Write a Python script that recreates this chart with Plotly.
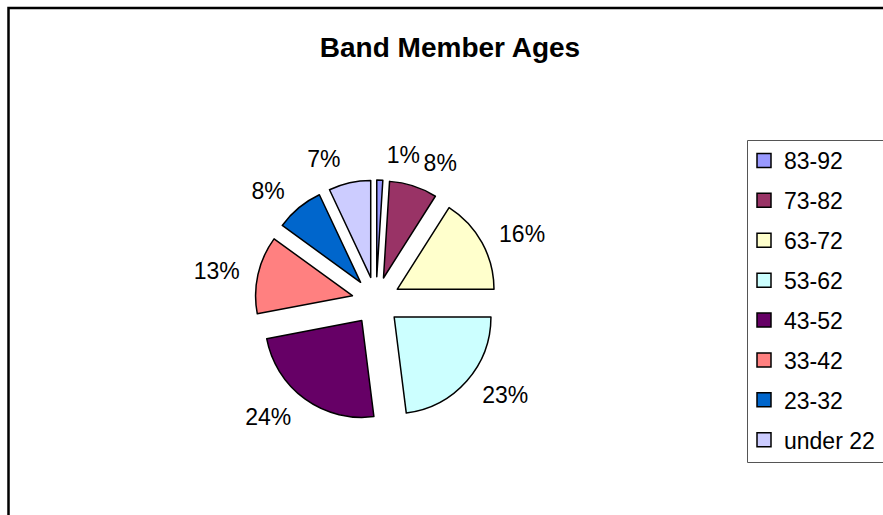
import plotly.graph_objects as go

labels = ["83-92", "73-82", "63-72", "53-62", "43-52", "33-42", "23-32", "under 22"]
values = [1, 8, 16, 23, 24, 13, 8, 7]
colors = ["#9999FF", "#993366", "#FFFFCC", "#CCFFFF", "#660066", "#FF8080", "#0066CC", "#CCCCFF"]
title_text = "Band Member Ages"

# which label layer each percentage label is drawn in (two layers keep
# neighbouring labels from being pushed apart by the library)
label_layer = [0, 1, 0, 0, 1, 0, 1, 1]

W, H = 883, 515
FONT = "Liberation Sans, Arial, sans-serif"
CX, CY = 376, 301          # pie centre (px from top-left)
PIE_EXT = 121              # outer extent of exploded slices (px)
LABEL_R = 133              # radius of the label ring (px)
PULL = 0.25


def domain(ext):
    return dict(x=[(CX - ext) / W, (CX + ext) / W],
                y=[(H - CY - ext) / H, (H - CY + ext) / H])


fig = go.Figure()

# visible exploded pie
fig.add_trace(go.Pie(
    labels=labels,
    values=values,
    sort=False,
    direction="clockwise",
    rotation=0,
    pull=[PULL] * len(values),
    marker=dict(colors=colors, line=dict(color="black", width=1.5)),
    textinfo="none",
    showlegend=False,
    hoverinfo="label+percent",
    domain=domain(PIE_EXT),
))

# transparent pies that only carry the outside percentage labels
for layer in (0, 1):
    fig.add_trace(go.Pie(
        labels=labels,
        values=values,
        sort=False,
        direction="clockwise",
        rotation=0,
        marker=dict(colors=["rgba(0,0,0,0)"] * len(values), line=dict(width=0)),
        textposition=["outside" if l == layer else "none" for l in label_layer],
        texttemplate=["%{percent:.0%}" if l == layer else "" for l in label_layer],
        textfont=dict(family=FONT, size=23, color="black"),
        showlegend=False,
        hoverinfo="skip",
        domain=domain(LABEL_R),
    ))

# legend entries
for lab, col in zip(labels, colors):
    fig.add_trace(go.Scatter(
        x=[None], y=[None], mode="markers", name=lab, legendgroup=lab,
        marker=dict(symbol="square", size=14, color=col, line=dict(color="black", width=1.5)),
        showlegend=True, hoverinfo="skip",
    ))

fig.update_layout(
    width=W, height=H,
    margin=dict(l=0, r=0, t=0, b=0, autoexpand=False),
    paper_bgcolor="white",
    plot_bgcolor="white",
    xaxis=dict(visible=False),
    yaxis=dict(visible=False),
    title=dict(text="<b>" + title_text + "</b>", x=450 / W, xanchor="center",
               y=1 - 47 / H, yanchor="middle", yref="container",
               font=dict(family=FONT, size=28, color="black")),
    legend=dict(
        x=744 / W, xanchor="left", y=1 - 139 / H, yanchor="top",
        borderwidth=0, bgcolor="rgba(0,0,0,0)",
        font=dict(family=FONT, size=23, color="black"),
        traceorder="grouped", tracegroupgap=7,
        itemsizing="trace",
    ),
    shapes=[
        # chart-area border (runs off the right and bottom edges)
        dict(type="rect", xref="paper", yref="paper",
             x0=8.5 / W, x1=1.3, y0=-0.3, y1=1 - 8 / H,
             line=dict(color="black", width=2.5), fillcolor="rgba(0,0,0,0)", layer="below"),
        # legend frame (runs off the right edge)
        dict(type="rect", xref="paper", yref="paper",
             x0=747.5 / W, x1=1.2, y0=1 - 462.5 / H, y1=1 - 140.5 / H,
             line=dict(color="#555555", width=1), fillcolor="white", layer="below"),
    ],
)

fig.write_html("out.html",
               config={"displayModeBar": False},
               post_script="document.body.style.margin='0';document.body.style.overflow='hidden';")
